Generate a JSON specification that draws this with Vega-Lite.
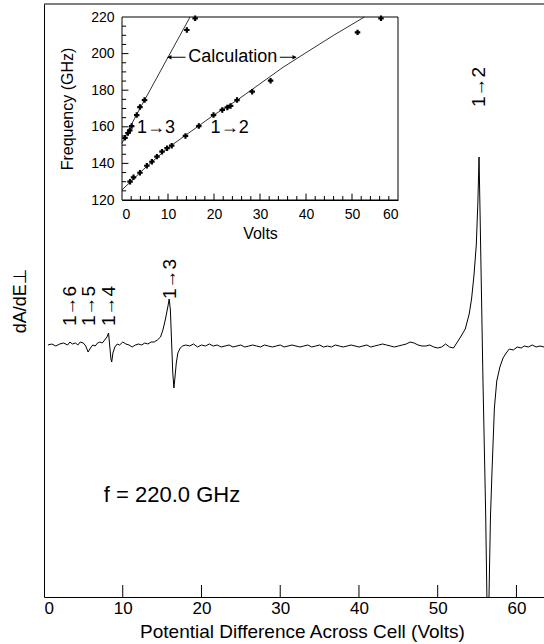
{
  "$schema": "https://vega.github.io/schema/vega-lite/v6.json",
  "autosize": {"type": "none"},
  "padding": {"left": 44, "top": 4, "right": 0, "bottom": 47},
  "width": 500,
  "height": 593,
  "background": "white",
  "config": {
    "view": {"stroke": null},
    "font": "Liberation Sans, DejaVu Sans",
    "axis": {"grid": false, "domainColor": "black", "tickColor": "black", "labelColor": "black", "titleColor": "black", "titleFontWeight": "normal", "labelFont": "Liberation Sans, DejaVu Sans", "titleFont": "Liberation Sans, DejaVu Sans", "domainWidth": 1, "tickWidth": 1}
  },
  "layer": [
    {
      "layer": [
        {
          "data": {"values": [
            {"V":0.5,"A":0},{"V":1.0,"A":1},{"V":1.5,"A":-1},{"V":2.0,"A":1},{"V":2.5,"A":2},{"V":3.0,"A":0},{"V":3.3,"A":3},{"V":3.6,"A":1},{"V":4.0,"A":2},{"V":4.3,"A":0},{"V":4.6,"A":3},{"V":5.0,"A":2},{"V":5.3,"A":-1},{"V":5.6,"A":-7},{"V":5.9,"A":-3},{"V":6.2,"A":0},{"V":6.5,"A":-1},{"V":6.8,"A":2},{"V":7.1,"A":3},{"V":7.4,"A":2},{"V":7.7,"A":5},{"V":8.0,"A":8},{"V":8.2,"A":12},{"V":8.35,"A":-1},{"V":8.5,"A":-14},{"V":8.6,"A":-17},{"V":8.75,"A":-8},{"V":9.0,"A":-2},{"V":9.3,"A":1},{"V":9.6,"A":0},{"V":10.0,"A":3},{"V":10.4,"A":1},{"V":10.8,"A":0},{"V":11.2,"A":-2},{"V":11.6,"A":0},{"V":12.0,"A":1},{"V":12.4,"A":0},{"V":12.8,"A":2},{"V":13.2,"A":1},{"V":13.6,"A":3},{"V":14.0,"A":3},{"V":14.4,"A":5},{"V":14.8,"A":8},{"V":15.1,"A":15},{"V":15.4,"A":25},{"V":15.7,"A":37},{"V":15.9,"A":46},{"V":16.05,"A":35},{"V":16.2,"A":4},{"V":16.35,"A":-27},{"V":16.5,"A":-43},{"V":16.65,"A":-31},{"V":16.8,"A":-18},{"V":17.0,"A":-8},{"V":17.3,"A":-3},{"V":17.6,"A":-1},{"V":18.0,"A":0},
            {"V":18.5,"A":-1},{"V":19.0,"A":1},{"V":19.5,"A":-2},{"V":20.0,"A":0},{"V":20.5,"A":-1},{"V":21.0,"A":1},{"V":21.5,"A":-1},{"V":22.0,"A":0},{"V":22.5,"A":-2},{"V":23.0,"A":-1},{"V":23.5,"A":0},{"V":24.0,"A":-2},{"V":24.5,"A":-1},{"V":25.0,"A":0},{"V":25.5,"A":-2},{"V":26.0,"A":-1},{"V":26.5,"A":0},{"V":27.0,"A":-1},{"V":27.5,"A":-2},{"V":28.0,"A":0},{"V":28.5,"A":-1},{"V":29.0,"A":-2},{"V":29.5,"A":-1},{"V":30.0,"A":0},{"V":30.5,"A":-2},{"V":31.0,"A":-1},{"V":31.5,"A":0},{"V":32.0,"A":-1},{"V":32.5,"A":-2},{"V":33.0,"A":-1},{"V":33.5,"A":0},{"V":34.0,"A":-2},{"V":34.5,"A":-1},{"V":35.0,"A":0},{"V":35.5,"A":-2},{"V":36.0,"A":-1},{"V":36.5,"A":-2},{"V":37.0,"A":0},{"V":37.5,"A":-1},{"V":38.0,"A":-2},{"V":38.5,"A":-1},{"V":39.0,"A":0},{"V":39.5,"A":-1},{"V":40.0,"A":-2},{"V":40.5,"A":-1},{"V":41.0,"A":0},{"V":41.5,"A":-2},{"V":42.0,"A":-1},{"V":42.5,"A":0},{"V":43.0,"A":1},{"V":43.5,"A":0},{"V":44.0,"A":-1},{"V":44.5,"A":-2},{"V":45.0,"A":-1},{"V":45.5,"A":0},{"V":46.0,"A":1},{"V":46.5,"A":3},{"V":47.0,"A":2},{"V":47.5,"A":0},{"V":48.0,"A":-1},{"V":48.5,"A":-1},{"V":49.0,"A":0},{"V":49.5,"A":-2},{"V":50.0,"A":-3},{"V":50.5,"A":-2},{"V":51.0,"A":1},{"V":51.5,"A":-2},{"V":52.0,"A":-3},{"V":52.5,"A":3},{"V":52.9,"A":8},{"V":53.5,"A":16},{"V":54.0,"A":31},{"V":54.3,"A":46},{"V":54.6,"A":69},{"V":54.9,"A":100},{"V":55.1,"A":142},{"V":55.25,"A":188},{"V":55.4,"A":123},{"V":55.75,"A":-36},{"V":56.1,"A":-172},{"V":56.3,"A":-280},{"V":56.45,"A":-280},{"V":56.7,"A":-172},{"V":56.9,"A":-126},{"V":57.2,"A":-63},{"V":57.5,"A":-36},{"V":57.9,"A":-22},{"V":58.3,"A":-13},{"V":58.7,"A":-8},{"V":59.1,"A":-4},{"V":59.6,"A":-5},{"V":60.1,"A":-2},{"V":60.6,"A":-3},{"V":61.0,"A":-1},{"V":61.5,"A":-2},{"V":62.0,"A":0},{"V":62.5,"A":-2},{"V":63.0,"A":-1},{"V":63.5,"A":-2}
          ]},
          "mark": {"type": "line", "color": "black", "strokeWidth": 1, "clip": true},
          "encoding": {
            "x": {"field": "V", "type": "quantitative", "scale": {"domain": [0, 63.5], "nice": false, "zero": false},
                  "axis": {"orient": "bottom", "values": [0,10,20,30,40,50,60], "ticks": false, "labelFontSize": 17, "labelPadding": 3, "title": "Potential Difference Across Cell (Volts)", "titleFontSize": 19, "titlePadding": 6, "titleX": 258}},
            "y": {"field": "A", "type": "quantitative", "scale": {"domain": [-252, 341], "nice": false, "zero": false},
                  "axis": {"orient": "left", "ticks": false, "labels": false, "title": "dA/dE⊥", "titleFontSize": 18, "titlePadding": 15}}
          }
        },
        {
          "data": {"values": [{"V": 10, "A": -252, "A2": -240}, {"V": 20, "A": -252, "A2": -240}, {"V": 30, "A": -252, "A2": -240}, {"V": 40, "A": -252, "A2": -240}, {"V": 50, "A": -252, "A2": -240}, {"V": 60, "A": -252, "A2": -240}]},
          "mark": {"type": "rule", "color": "black", "strokeWidth": 1},
          "encoding": {"x": {"field": "V", "type": "quantitative"}, "y": {"field": "A", "type": "quantitative"}, "y2": {"field": "A2"}}
        },
        {
          "data": {"values": [{"A": 341}]},
          "mark": {"type": "rule", "color": "black", "strokeWidth": 1},
          "encoding": {"y": {"field": "A", "type": "quantitative"}}
        },
        {
          "data": {"values": [
            {"V": 3.3, "A": 39, "t": "1→6"},
            {"V": 5.75, "A": 39, "t": "1→5"},
            {"V": 8.3, "A": 39, "t": "1→4"},
            {"V": 16.0, "A": 66, "t": "1→3"},
            {"V": 55.25, "A": 258, "t": "1→2"}
          ]},
          "mark": {"type": "text", "angle": 270, "fontSize": 19, "color": "black", "align": "center", "baseline": "middle"},
          "encoding": {"x": {"field": "V", "type": "quantitative"}, "y": {"field": "A", "type": "quantitative"}, "text": {"field": "t"}}
        },
        {
          "data": {"values": [{"V": 7.6, "A": -150, "t": "f = 220.0 GHz"}]},
          "mark": {"type": "text", "fontSize": 22, "color": "black", "align": "left", "baseline": "middle"},
          "encoding": {"x": {"field": "V", "type": "quantitative"}, "y": {"field": "A", "type": "quantitative"}, "text": {"field": "t"}}
        }
      ]
    },
    {
      "layer": [
        {
          "data": {"values": [{"V": 0, "V2": 60, "F": 120, "F2": 220}]},
          "mark": {"type": "rect", "fill": "white", "stroke": "black", "strokeWidth": 1},
          "encoding": {
            "x": {"field": "V", "type": "quantitative", "scale": {"domain": [0, 60], "range": [78, 354], "nice": false, "zero": false},
                  "axis": {"orient": "bottom", "offset": -397, "values": [0,10,20,30,40,50,60], "labelOverlap": false, "ticks": false, "labelFontSize": 14, "labelPadding": 7, "title": "Volts", "titleFontSize": 16, "titlePadding": 4}},
            "x2": {"field": "V2"},
            "y": {"field": "F", "type": "quantitative", "scale": {"domain": [120, 220], "range": [196, 13], "nice": false, "zero": false},
                  "axis": {"orient": "left", "offset": -78, "values": [120,140,160,180,200,220], "labelOverlap": false, "ticks": false, "labelFontSize": 14, "labelPadding": 8, "title": "Frequency (GHz)", "titleFontSize": 16, "titlePadding": 15}},
            "y2": {"field": "F2"}
          }
        },
        {
          "data": {"values": [
            {"V": 2, "F": 120, "F2": 122.2}, {"V": 4, "F": 120, "F2": 122.2}, {"V": 6, "F": 120, "F2": 122.2}, {"V": 8, "F": 120, "F2": 122.2}, {"V": 10, "F": 120, "F2": 123.5},
            {"V": 12, "F": 120, "F2": 122.2}, {"V": 14, "F": 120, "F2": 122.2}, {"V": 16, "F": 120, "F2": 122.2}, {"V": 18, "F": 120, "F2": 122.2}, {"V": 20, "F": 120, "F2": 123.5},
            {"V": 22, "F": 120, "F2": 122.2}, {"V": 24, "F": 120, "F2": 122.2}, {"V": 26, "F": 120, "F2": 122.2}, {"V": 28, "F": 120, "F2": 122.2}, {"V": 30, "F": 120, "F2": 123.5},
            {"V": 32, "F": 120, "F2": 122.2}, {"V": 34, "F": 120, "F2": 122.2}, {"V": 36, "F": 120, "F2": 122.2}, {"V": 38, "F": 120, "F2": 122.2}, {"V": 40, "F": 120, "F2": 123.5},
            {"V": 42, "F": 120, "F2": 122.2}, {"V": 44, "F": 120, "F2": 122.2}, {"V": 46, "F": 120, "F2": 122.2}, {"V": 48, "F": 120, "F2": 122.2}, {"V": 50, "F": 120, "F2": 123.5},
            {"V": 52, "F": 120, "F2": 122.2}, {"V": 54, "F": 120, "F2": 122.2}, {"V": 56, "F": 120, "F2": 122.2}, {"V": 58, "F": 120, "F2": 122.2}
          ]},
          "mark": {"type": "rule", "color": "black", "strokeWidth": 1},
          "encoding": {"x": {"field": "V", "type": "quantitative"}, "y": {"field": "F", "type": "quantitative"}, "y2": {"field": "F2"}}
        },
        {
          "data": {"values": [
            {"F": 125, "V": 0, "V2": 0.9}, {"F": 130, "V": 0, "V2": 0.9}, {"F": 135, "V": 0, "V2": 0.9}, {"F": 140, "V": 0, "V2": 1.4},
            {"F": 145, "V": 0, "V2": 0.9}, {"F": 150, "V": 0, "V2": 0.9}, {"F": 155, "V": 0, "V2": 0.9}, {"F": 160, "V": 0, "V2": 1.4},
            {"F": 165, "V": 0, "V2": 0.9}, {"F": 170, "V": 0, "V2": 0.9}, {"F": 175, "V": 0, "V2": 0.9}, {"F": 180, "V": 0, "V2": 1.4},
            {"F": 185, "V": 0, "V2": 0.9}, {"F": 190, "V": 0, "V2": 0.9}, {"F": 195, "V": 0, "V2": 0.9}, {"F": 200, "V": 0, "V2": 1.4},
            {"F": 205, "V": 0, "V2": 0.9}, {"F": 210, "V": 0, "V2": 0.9}, {"F": 215, "V": 0, "V2": 0.9}
          ]},
          "mark": {"type": "rule", "color": "black", "strokeWidth": 1},
          "encoding": {"x": {"field": "V", "type": "quantitative"}, "x2": {"field": "V2"}, "y": {"field": "F", "type": "quantitative"}}
        },
        {
          "data": {"values": [
            {"s": "13", "V": 0, "F": 151}, {"s": "13", "V": 2, "F": 161}, {"s": "13", "V": 4, "F": 170.5}, {"s": "13", "V": 5, "F": 175}, {"s": "13", "V": 10, "F": 198}, {"s": "13", "V": 14.8, "F": 220},
            {"s": "12", "V": 0, "F": 125.5}, {"s": "12", "V": 5, "F": 137.5}, {"s": "12", "V": 10, "F": 148.5}, {"s": "12", "V": 15, "F": 157.5}, {"s": "12", "V": 20, "F": 166.5}, {"s": "12", "V": 25, "F": 174.5}, {"s": "12", "V": 30, "F": 183.5}, {"s": "12", "V": 35, "F": 192.5}, {"s": "12", "V": 40, "F": 200.5}, {"s": "12", "V": 46, "F": 210}, {"s": "12", "V": 52.7, "F": 220}
          ]},
          "mark": {"type": "line", "color": "black", "strokeWidth": 0.8},
          "encoding": {"x": {"field": "V", "type": "quantitative"}, "y": {"field": "F", "type": "quantitative"}, "detail": {"field": "s"}}
        },
        {
          "data": {"values": [
            {"V": 0.65, "F": 154}, {"V": 1.3, "F": 156.6}, {"V": 1.7, "F": 158}, {"V": 2.1, "F": 160.4}, {"V": 3.2, "F": 166.4}, {"V": 3.9, "F": 170.8}, {"V": 4.9, "F": 174.6}, {"V": 14.1, "F": 212.9}, {"V": 15.9, "F": 219.3},
            {"V": 1.75, "F": 130}, {"V": 2.5, "F": 132.4}, {"V": 3.9, "F": 134.9}, {"V": 5.4, "F": 138.7}, {"V": 6.5, "F": 140.9}, {"V": 7.6, "F": 143.7}, {"V": 8.7, "F": 146.4}, {"V": 9.8, "F": 148.3}, {"V": 10.8, "F": 149.7}, {"V": 13.8, "F": 155}, {"V": 16.7, "F": 160.4}, {"V": 19.9, "F": 166.4}, {"V": 21.8, "F": 169.2}, {"V": 22.9, "F": 170.6}, {"V": 23.6, "F": 171.4}, {"V": 25, "F": 174.6}, {"V": 28.3, "F": 179.2}, {"V": 32.3, "F": 185.2}, {"V": 51.2, "F": 211.6}, {"V": 56.3, "F": 219.3}
          ]},
          "mark": {"type": "point", "shape": "cross", "filled": true, "color": "black", "size": 30, "opacity": 1},
          "encoding": {"x": {"field": "V", "type": "quantitative"}, "y": {"field": "F", "type": "quantitative"}}
        },
        {
          "data": {"values": [{"V": 9.9, "V2": 13.8, "F": 198}, {"V": 34.3, "V2": 37.8, "F": 198}]},
          "mark": {"type": "rule", "color": "black", "strokeWidth": 1},
          "encoding": {"x": {"field": "V", "type": "quantitative"}, "x2": {"field": "V2"}, "y": {"field": "F", "type": "quantitative"}}
        },
        {
          "data": {"values": [{"V": 10.3, "F": 198}]},
          "mark": {"type": "point", "shape": "triangle-left", "filled": true, "color": "black", "size": 22, "opacity": 1},
          "encoding": {"x": {"field": "V", "type": "quantitative"}, "y": {"field": "F", "type": "quantitative"}}
        },
        {
          "data": {"values": [{"V": 37.5, "F": 198}]},
          "mark": {"type": "point", "shape": "triangle-right", "filled": true, "color": "black", "size": 22, "opacity": 1},
          "encoding": {"x": {"field": "V", "type": "quantitative"}, "y": {"field": "F", "type": "quantitative"}}
        },
        {
          "data": {"values": [
            {"V": 24.1, "F": 198, "t": "Calculation"},
            {"V": 7.4, "F": 159.5, "t": "1→3"},
            {"V": 23.4, "F": 159.5, "t": "1→2"}
          ]},
          "mark": {"type": "text", "fontSize": 18, "color": "black", "align": "center", "baseline": "middle"},
          "encoding": {"x": {"field": "V", "type": "quantitative"}, "y": {"field": "F", "type": "quantitative"}, "text": {"field": "t"}}
        }
      ]
    }
  ],
  "resolve": {"scale": {"x": "independent", "y": "independent"}, "axis": {"x": "independent", "y": "independent"}}
}
